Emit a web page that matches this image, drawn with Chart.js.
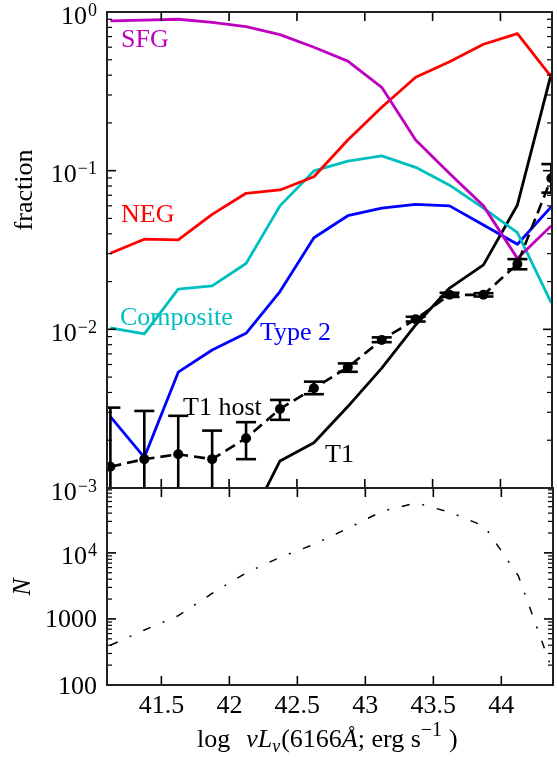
<!DOCTYPE html>
<html>
<head>
<meta charset="utf-8">
<script src="https://cdn.jsdelivr.net/npm/chart.js@4.4.0/dist/chart.umd.min.js"></script>
<style>
html, body { margin: 0; padding: 0; background: #fff; }
#wrap { position: relative; width: 557px; height: 762px; }
#wrap canvas { position: absolute; left: 0; top: 0; }
</style>
</head>
<body>
<div id="wrap">
  <canvas id="nChart" width="557" height="762"></canvas>
  <canvas id="fracChart" width="557" height="762"></canvas>
</div>
<script>
// --- Daten (Binmitten in log nuLnu) ---
const lum = [41.125, 41.375, 41.625, 41.875, 42.125, 42.375, 42.625, 42.875, 43.125, 43.375, 43.625, 43.875, 44.125, 44.375];

const sfg   = [0.88, 0.89, 0.90, 0.86, 0.81, 0.72, 0.60, 0.49, 0.335, 0.156, 0.096, 0.060, 0.028, 0.045];
const neg   = [0.0302, 0.037, 0.0366, 0.053, 0.072, 0.0756, 0.0916, 0.156, 0.251, 0.388, 0.486, 0.626, 0.73, 0.39];
const comp  = [0.0102, 0.00935, 0.0179, 0.0188, 0.026, 0.060, 0.0996, 0.115, 0.124, 0.105, 0.081, 0.058, 0.0407, 0.0147];
const type2 = [0.00282, 0.00156, 0.00537, 0.00741, 0.00944, 0.0173, 0.0378, 0.052, 0.058, 0.0614, 0.060, 0.0455, 0.0344, 0.0593];
const t1    = [null, null, null, null, 0.00056, 0.00148, 0.00193, 0.00326, 0.00569, 0.01066, 0.0182, 0.0255, 0.0608, 0.41];

const t1host = [0.00136, 0.00152, 0.00163, 0.00152, 0.00206, 0.00315, 0.00425, 0.00577, 0.00858, 0.01157, 0.0165, 0.0165, 0.0258, 0.0895];
const hostLo = [0.0004, 0.0004, 0.0004, 0.0004, 0.00152, 0.00269, 0.0039, 0.0054, 0.0083, 0.0112, 0.0160, 0.0161, 0.0239, 0.0727];
const hostHi = [0.00321, 0.00306, 0.00285, 0.0023, 0.0026, 0.00359, 0.00468, 0.0061, 0.0089, 0.0120, 0.0170, 0.0169, 0.0277, 0.110];

const nCount = [400, 680, 1120, 2450, 5000, 8600, 13500, 23700, 42800, 57000, 41000, 25400, 4500, 167];

// Achsenbeschriftung
const xTicks = [41.5, 42, 42.5, 43, 43.5, 44];
const xTickLabels = ['41.5', '42', '42.5', '43', '43.5', '44'];
const fracTicks = [1e-3, 1e-2, 1e-1, 1];
const fracTickBase = ['10', '10', '10', '10'];
const fracTickExp = ['\u22123', '\u22122', '\u22121', '0'];
const nTicks = [100, 1000, 10000];
const nTickBase = ['100', '1000', '10'];
const nTickExp = ['', '', '4'];

const SERIF = '"Liberation Serif", "DejaVu Serif", serif';
const F_MAIN = '26px ' + SERIF;
const F_SUP = '18px ' + SERIF;
const F_SUP2 = '20px ' + SERIF;
const F_IT = 'italic 26px ' + SERIF;
const F_ITSUB = 'italic 18px ' + SERIF;

const pts = ys => lum.map((x, i) => ({ x, y: ys[i] }));

function line(ctx, x1, y1, x2, y2) {
    ctx.beginPath();
    ctx.moveTo(x1, y1);
    ctx.lineTo(x2, y2);
    ctx.stroke();
}

// Ticks nach innen, Rahmen, y-Beschriftung
function drawAxes(chart, yMin, yMax, ticks, bases, exps) {
    const ctx = chart.ctx, a = chart.chartArea;
    const sx = chart.scales.x, sy = chart.scales.y;
    ctx.save();
    ctx.strokeStyle = '#000';
    ctx.lineWidth = 1.6;
    xTicks.forEach(v => {
        const px = sx.getPixelForValue(v);
        line(ctx, px, a.bottom, px, a.bottom - 9);
        line(ctx, px, a.top, px, a.top + 9);
    });
    const d0 = Math.floor(Math.log10(yMin)), d1 = Math.ceil(Math.log10(yMax));
    for (let d = d0; d <= d1; d++) {
        for (let m = 1; m <= 9; m++) {
            const v = m * Math.pow(10, d);
            if (v < yMin * 0.999 || v > yMax * 1.001) continue;
            const py = sy.getPixelForValue(v);
            const len = m === 1 ? 9 : 5;
            ctx.lineWidth = m === 1 ? 1.6 : 1.2;
            line(ctx, a.left, py, a.left + len, py);
            line(ctx, a.right, py, a.right - len, py);
        }
    }
    ctx.lineWidth = 2;
    ctx.strokeStyle = '#222';
    ctx.strokeRect(a.left, a.top, a.right - a.left, a.bottom - a.top);

    ctx.fillStyle = '#000';
    ctx.textAlign = 'left';
    ctx.textBaseline = 'alphabetic';
    const right = a.left - 10;
    ticks.forEach((v, i) => {
        const py = sy.getPixelForValue(v);
        if (exps[i]) {
            ctx.font = F_SUP;
            const ws = ctx.measureText(exps[i]).width;
            ctx.fillText(exps[i], right - ws, py + 3.5);
            ctx.font = F_MAIN;
            const wb = ctx.measureText(bases[i]).width;
            ctx.fillText(bases[i], right - ws - 1 - wb, py + 11.5);
        } else {
            ctx.font = F_MAIN;
            const wb = ctx.measureText(bases[i]).width;
            ctx.fillText(bases[i], right - wb, py + 8.5);
        }
    });
    ctx.restore();
}

function drawErrorBars(chart) {
    const ctx = chart.ctx, a = chart.chartArea;
    const sx = chart.scales.x, sy = chart.scales.y;
    ctx.save();
    ctx.beginPath();
    ctx.rect(a.left, a.top, a.right - a.left, a.bottom - a.top);
    ctx.clip();
    ctx.strokeStyle = '#000';
    ctx.lineWidth = 2.6;
    lum.forEach((x, i) => {
        const px = sx.getPixelForValue(x);
        const lo = sy.getPixelForValue(hostLo[i]);
        const hi = sy.getPixelForValue(hostHi[i]);
        line(ctx, px, lo, px, hi);
        line(ctx, px - 10, lo, px + 10, lo);
        line(ctx, px - 10, hi, px + 10, hi);
    });
    ctx.restore();
}

function rotText(ctx, txt, x, y, font) {
    ctx.save();
    ctx.translate(x, y);
    ctx.rotate(-Math.PI / 2);
    ctx.font = font;
    ctx.textAlign = 'center';
    ctx.textBaseline = 'alphabetic';
    ctx.fillStyle = '#000';
    ctx.fillText(txt, 0, 0);
    ctx.restore();
}

// Beschriftungen der Kurven
const notes = [
    { t: 'SFG', x: 121, y: 47, c: '#bf00bf' },
    { t: 'NEG', x: 121, y: 222, c: '#ff0000' },
    { t: 'Composite', x: 120, y: 325, c: '#00bfbf' },
    { t: 'Type 2', x: 260, y: 340, c: '#0000ff' },
    { t: 'T1 host', x: 183, y: 415, c: '#000' },
    { t: 'T1', x: 325, y: 462, c: '#000' }
];

const fracPlugin = {
    id: 'fracFrame',
    beforeDatasetDraw(chart, args) {
        if (chart.data.datasets[args.index].label === 'T1 host') drawErrorBars(chart);
    },
    afterDraw(chart) {
        const ctx = chart.ctx;
        drawAxes(chart, 1e-3, 1, fracTicks, fracTickBase, fracTickExp);
        ctx.save();
        ctx.font = F_MAIN;
        ctx.textAlign = 'left';
        ctx.textBaseline = 'alphabetic';
        notes.forEach(n => { ctx.fillStyle = n.c; ctx.fillText(n.t, n.x, n.y); });
        ctx.restore();
        rotText(ctx, 'fraction', 32, 190, F_MAIN);
    }
};

const nPlugin = {
    id: 'nFrame',
    afterDraw(chart) {
        const ctx = chart.ctx, a = chart.chartArea, sx = chart.scales.x;
        drawAxes(chart, 100, 96000, nTicks, nTickBase, nTickExp);
        ctx.save();
        ctx.fillStyle = '#000';
        ctx.font = F_MAIN;
        ctx.textAlign = 'center';
        ctx.textBaseline = 'alphabetic';
        xTicks.forEach((v, i) => ctx.fillText(xTickLabels[i], sx.getPixelForValue(v), a.bottom + 28));

        // x-Achsentitel: log nuL_nu(6166Å; erg s^-1)
        const parts = [
            { t: 'log', f: F_MAIN, dy: 0, gap: 16 },
            { t: '\u03bd', f: F_IT, dy: 0, gap: 0 },
            { t: 'L', f: F_IT, dy: 0, gap: 0 },
            { t: '\u03bd', f: F_ITSUB, dy: 5, gap: 1 },
            { t: '(6166', f: F_MAIN, dy: 0, gap: 0 },
            { t: '\u00c5', f: F_IT, dy: 0, gap: 0 },
            { t: '; erg s', f: F_MAIN, dy: 0, gap: 0 },
            { t: '\u22121', f: F_SUP2, dy: -11, gap: 7 },
            { t: ')', f: F_MAIN, dy: 0, gap: 0 }
        ];
        ctx.textAlign = 'left';
        let x = 197;
        const y = 747;
        parts.forEach(p => {
            ctx.font = p.f;
            ctx.fillText(p.t, x, y + p.dy);
            x += ctx.measureText(p.t).width + p.gap;
        });
        ctx.restore();
        rotText(ctx, 'N', 30, 587, F_IT);
    }
};

const common = {
    responsive: false,
    animation: false,
    plugins: { legend: { display: false }, tooltip: { enabled: false } },
    elements: { point: { radius: 0 }, line: { tension: 0 } }
};

new Chart(document.getElementById('fracChart'), {
    type: 'line',
    data: {
        datasets: [
            { label: 'T1 host', data: pts(t1host), borderColor: '#000', backgroundColor: '#000',
              borderWidth: 2.6, borderDash: [11, 6], pointRadius: 5, pointBorderWidth: 0 },
            { label: 'SFG', data: pts(sfg), borderColor: '#bf00bf', borderWidth: 2.8, borderJoinStyle: 'round' },
            { label: 'NEG', data: pts(neg), borderColor: '#ff0000', borderWidth: 2.8, borderJoinStyle: 'round' },
            { label: 'Composite', data: pts(comp), borderColor: '#00bfbf', borderWidth: 2.8, borderJoinStyle: 'round' },
            { label: 'Type 2', data: pts(type2), borderColor: '#0000ff', borderWidth: 2.8, borderJoinStyle: 'round' },
            { label: 'T1', data: pts(t1), borderColor: '#000', borderWidth: 2.8, borderJoinStyle: 'round' }
        ]
    },
    options: {
        ...common,
        layout: { padding: { left: 107, top: 12, right: 4, bottom: 274 } },
        scales: {
            x: { type: 'linear', min: 41.1, max: 44.38, display: false },
            y: { type: 'logarithmic', min: 1e-3, max: 1, display: false }
        }
    },
    plugins: [fracPlugin]
});

new Chart(document.getElementById('nChart'), {
    type: 'line',
    data: {
        datasets: [
            { label: 'N', data: pts(nCount), borderColor: '#000', borderWidth: 1.5, borderDash: [8, 13, 2, 13] }
        ]
    },
    options: {
        ...common,
        layout: { padding: { left: 107, top: 488, right: 4, bottom: 77 } },
        scales: {
            x: { type: 'linear', min: 41.1, max: 44.38, display: false },
            y: { type: 'logarithmic', min: 100, max: 96000, display: false }
        }
    },
    plugins: [nPlugin]
});
</script>
</body>
</html>
